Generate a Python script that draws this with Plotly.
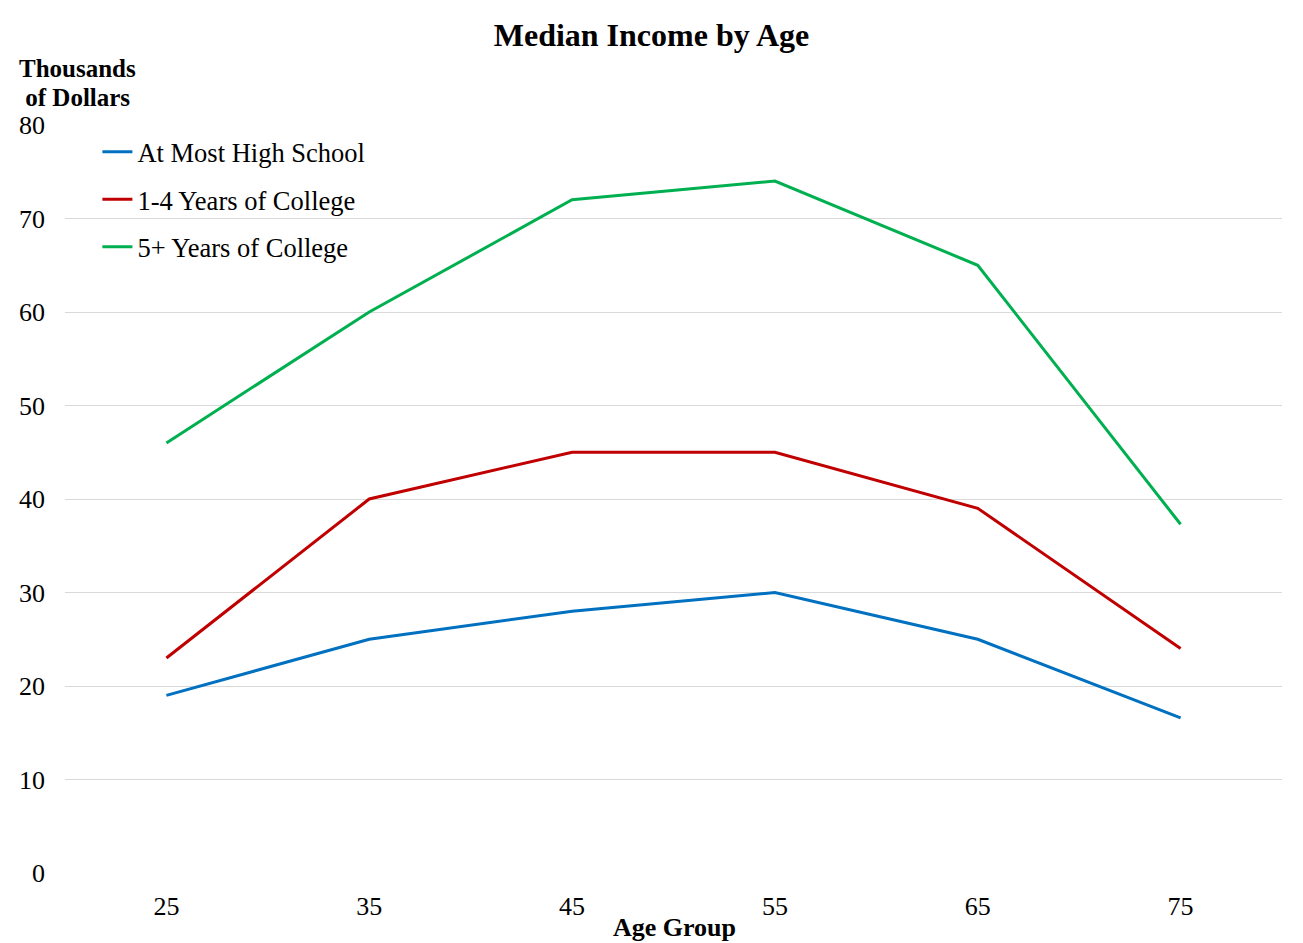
import plotly.graph_objects as go

age_groups = ["25", "35", "45", "55", "65", "75"]
high_school = [19, 25, 28, 30, 25, 16.6]
college_1_4 = [23, 40, 45, 45, 39, 24]
college_5 = [46, 60, 72, 74, 65, 37.3]
series_names = ["At Most High School", "1-4 Years of College", "5+ Years of College"]
colors = ["#0070C0", "#C00000", "#00B050"]

FONT = "Liberation Serif, Times New Roman, serif"

W, H = 1303, 943
L, R, T, B = 65, 21, 125, 70
PW, PH = W - L - R, H - T - B

fig = go.Figure()
for i, (name, vals, col) in enumerate(zip(series_names, [high_school, college_1_4, college_5], colors)):
    fig.add_trace(go.Scatter(x=age_groups, y=vals, mode="lines", name=name,
                             line=dict(color=col, width=3), legendgroup=str(i)))

fig.update_layout(
    width=W, height=H,
    paper_bgcolor="white", plot_bgcolor="white",
    margin=dict(l=L, r=R, t=T, b=B, autoexpand=False),
    font=dict(family=FONT, color="black", size=26),
    title=dict(text="<b>Median Income by Age</b>", x=0.5, xanchor="center",
               y=1 - 35 / H, yanchor="middle", font=dict(size=32, family=FONT)),
    showlegend=True,
    legend=dict(x=(97.4 - L) / PW, y=1 - 3 / PH, xanchor="left", yanchor="top",
                font=dict(size=26.5, family=FONT, color="black"), bgcolor="rgba(0,0,0,0)",
                traceorder="grouped", tracegroupgap=10, itemwidth=30),
    xaxis=dict(type="category", range=[-0.5, 5.5], showgrid=False, showline=False,
               ticks="", tickfont=dict(size=26, family=FONT, color="black"),
               ticklabelstandoff=15, automargin=False),
    yaxis=dict(range=[0, 80], dtick=10, showgrid=True, gridcolor="#D9D9D9", gridwidth=1,
               zeroline=False, showline=False, ticks="",
               tickfont=dict(size=26, family=FONT, color="black"),
               ticklabelstandoff=19, automargin=False),
)

for txt, yc in [("<b>Thousands</b>", 68), ("<b> of Dollars</b>", 98)]:
    fig.add_annotation(text=txt, xref="paper", yref="paper",
                       x=(17 - L) / PW, y=1 + (T - yc) / PH, xanchor="left", yanchor="middle",
                       align="left", showarrow=False, font=dict(size=25, family=FONT))
fig.add_annotation(text="<b>Age Group</b>", xref="paper", yref="paper",
                   x=(674 - L) / PW, y=-(927 - (T + PH)) / PH, xanchor="center", yanchor="middle",
                   showarrow=False, font=dict(size=26, family=FONT))

fig.write_html("out.html", config={"displayModeBar": False},
               post_script="document.body.style.margin='0';document.body.style.overflow='hidden';")
